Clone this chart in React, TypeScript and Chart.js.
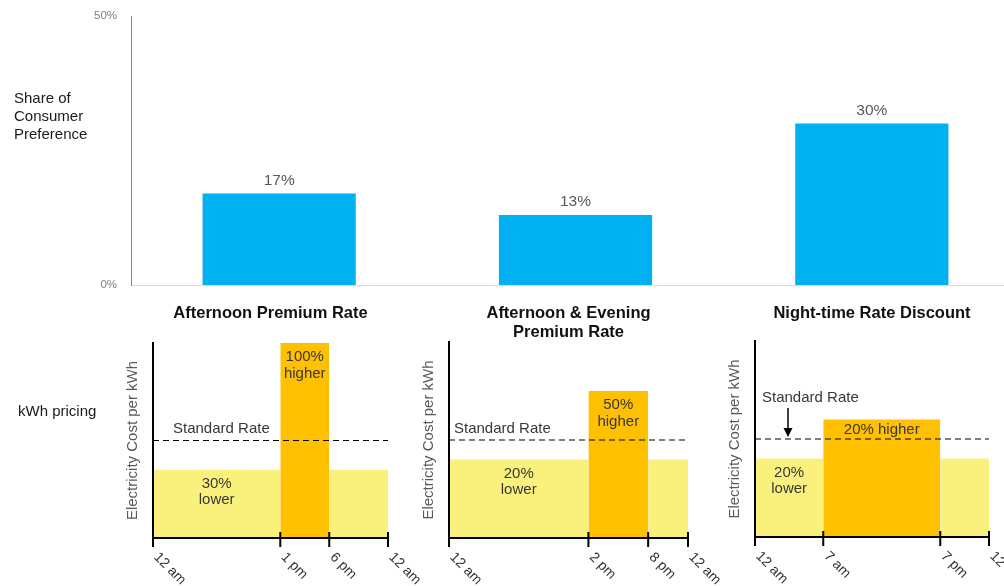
import React, { useEffect, useRef } from "react";
import { Chart, registerables } from "chart.js";

Chart.register(...registerables);

const FONT = "'Liberation Sans', Arial, Helvetica, sans-serif";

// Pricing plans and the share of consumers preferring each one
const plans = ["Afternoon Premium Rate", "Afternoon & Evening\nPremium Rate", "Night-time Rate Discount"];
const preferenceShare = [17, 13, 30];
const shareTicks = [0, 50];

// Daily tariff shape per plan: hours from midnight, price relative to the standard rate
const peakStartHour = [13, 14, 7];
const peakEndHour = [18, 20, 19];
const peakPrice = [2.0, 1.5, 1.2];
const offPeakPrice = [0.7, 0.8, 0.8];
const standardPrice = 1;
const dayHours = [0, 24];
const hourTickLabels = [
  ["12 am", "1 pm", "6 pm", "12 am"],
  ["12 am", "2 pm", "8 pm", "12 am"],
  ["12 am", "7 am", "7 pm", "12 am"],
];

const BLUE = "#00B0F0";
const YELLOW = "#FAF07C";
const ORANGE = "#FFC000";
const NOTE = "#383838";

// Placement of each small tariff panel on the page
const panelLayout = [
  { left: 93, top: 295, padTop: 48, plotWidth: 235, plotHeight: 195, stdDx: 20, stdDy: -12, arrow: false, inlinePeak: false },
  { left: 389, top: 295, padTop: 47, plotWidth: 239, plotHeight: 196, stdDx: 5, stdDy: -11, arrow: false, inlinePeak: false },
  { left: 695, top: 295, padTop: 46, plotWidth: 234, plotHeight: 196, stdDx: 7, stdDy: -41, arrow: true, inlinePeak: true },
];
const PANEL_H = 291;
const AXIS_W = 60;
const PAD_R = 45;

const pctText = (v: number) => `${Math.round(Math.abs(v - standardPrice) * 100)}%`;

function PreferenceChart() {
  const ref = useRef<HTMLCanvasElement | null>(null);
  useEffect(() => {
    const valueLabels = {
      id: "valueLabels",
      afterDatasetsDraw(chart: any) {
        const { ctx } = chart;
        const meta = chart.getDatasetMeta(0);
        ctx.save();
        ctx.font = `15.5px ${FONT}`;
        ctx.fillStyle = "#595959";
        ctx.textAlign = "center";
        ctx.textBaseline = "middle";
        meta.data.forEach((bar: any, i: number) => {
          ctx.fillText(`${preferenceShare[i]}%`, bar.x, bar.y - 13);
        });
        ctx.restore();
      },
    };
    const chart = new Chart(ref.current as HTMLCanvasElement, {
      type: "bar",
      data: {
        labels: plans.map((p) => p.split("\n")),
        datasets: [
          {
            data: preferenceShare,
            backgroundColor: BLUE,
            barPercentage: 0.517,
            categoryPercentage: 1,
          },
        ],
      },
      options: {
        responsive: false,
        animation: false,
        layout: { padding: { top: 16, right: 10, left: 0, bottom: 0 } },
        plugins: { legend: { display: false }, tooltip: { enabled: false } },
        scales: {
          x: {
            grid: { display: false, drawTicks: false },
            ticks: { display: false },
            border: { display: true, color: "#D9D9D9", width: 1 },
            afterFit(s: any) {
              s.height = 15;
              s.paddingLeft = 0;
              s.paddingRight = 0;
            },
          },
          y: {
            min: 0,
            max: 50,
            afterBuildTicks(s: any) {
              s.ticks = shareTicks.map((v) => ({ value: v }));
            },
            ticks: {
              callback: (v: any) => `${v}%`,
              color: "#7F7F7F",
              font: { family: FONT, size: 11.5 },
              padding: 14,
            },
            grid: { display: false, drawTicks: false },
            border: { display: true, color: "#5B8FC9", width: 1 },
            afterFit(s: any) {
              s.width = 131;
              s.paddingTop = 0;
              s.paddingBottom = 0;
            },
          },
        },
      },
      plugins: [valueLabels],
    } as any);
    return () => chart.destroy();
  }, []);
  return (
    <canvas
      ref={ref}
      width={1030}
      height={300}
      style={{ position: "absolute", left: 0, top: 0, width: 1030, height: 300 }}
    />
  );
}

function TariffPanel({ index }: { index: number }) {
  const ref = useRef<HTMLCanvasElement | null>(null);
  const lay = panelLayout[index];
  const width = AXIS_W + lay.plotWidth + PAD_R;
  useEffect(() => {
    const start = peakStartHour[index];
    const end = peakEndHour[index];
    const peak = peakPrice[index];
    const off = offPeakPrice[index];
    const tickValues = [dayHours[0], start, end, dayHours[1]];
    const tickLabels = hourTickLabels[index];
    const titleLines = plans[index].split("\n");

    const panelDecor = {
      id: "panelDecor",
      afterDraw(chart: any) {
        const { ctx, chartArea } = chart;
        const x = chart.scales.x;
        const y = chart.scales.y;
        ctx.save();

        // panel heading
        ctx.fillStyle = "#111";
        ctx.font = `bold 16.5px ${FONT}`;
        ctx.textAlign = "center";
        ctx.textBaseline = "middle";
        const cx = (chartArea.left + chartArea.right) / 2;
        titleLines.forEach((line, i) => ctx.fillText(line, cx, 18 + i * 19));

        // hour ticks and slanted labels
        ctx.strokeStyle = "#000";
        ctx.lineWidth = 2;
        ctx.fillStyle = "#333";
        ctx.font = `14px ${FONT}`;
        x.ticks.forEach((t: any, i: number) => {
          const px = x.getPixelForValue(t.value);
          ctx.beginPath();
          ctx.moveTo(px, chartArea.bottom - 6);
          ctx.lineTo(px, chartArea.bottom + 9);
          ctx.stroke();
          ctx.save();
          ctx.translate(px + 3, chartArea.bottom + 17);
          ctx.rotate(Math.PI / 4);
          ctx.textAlign = "left";
          ctx.textBaseline = "middle";
          ctx.fillText(tickLabels[i], 0, 0);
          ctx.restore();
        });

        // rate notes
        ctx.fillStyle = NOTE;
        ctx.font = `15px ${FONT}`;
        ctx.textAlign = "center";
        ctx.textBaseline = "middle";
        const peakX = (x.getPixelForValue(start) + x.getPixelForValue(end)) / 2;
        const peakTop = y.getPixelForValue(peak);
        if (lay.inlinePeak) {
          ctx.fillText(`${pctText(peak)} higher`, peakX, peakTop + 10);
        } else {
          ctx.fillText(pctText(peak), peakX, peakTop + 14);
          ctx.fillText("higher", peakX, peakTop + 31);
        }
        const offX = (x.getPixelForValue(dayHours[0]) + x.getPixelForValue(start)) / 2;
        const offTop = y.getPixelForValue(off);
        ctx.fillText(pctText(off), offX, offTop + 14);
        ctx.fillText("lower", offX, offTop + 30);

        const stdY = y.getPixelForValue(standardPrice);
        ctx.textAlign = "left";
        ctx.fillText("Standard Rate", chartArea.left + lay.stdDx, stdY + lay.stdDy);
        if (lay.arrow) {
          const ax = chartArea.left + 33;
          ctx.strokeStyle = "#000";
          ctx.lineWidth = 1.5;
          ctx.beginPath();
          ctx.moveTo(ax, stdY - 31);
          ctx.lineTo(ax, stdY - 9);
          ctx.stroke();
          ctx.fillStyle = "#000";
          ctx.beginPath();
          ctx.moveTo(ax - 4.5, stdY - 11);
          ctx.lineTo(ax + 4.5, stdY - 11);
          ctx.lineTo(ax, stdY - 2);
          ctx.closePath();
          ctx.fill();
        }
        ctx.restore();
      },
    };

    const chart = new Chart(ref.current as HTMLCanvasElement, {
      type: "line",
      data: {
        datasets: [
          {
            label: "Standard Rate",
            data: dayHours.map((h) => ({ x: h, y: standardPrice })),
            borderColor: "#000",
            borderWidth: 1.2,
            borderDash: [6, 4],
            pointRadius: 0,
            fill: false,
          },
          {
            label: "Peak",
            data: [
              { x: start, y: peak },
              { x: end, y: peak },
            ],
            backgroundColor: ORANGE,
            borderWidth: 0,
            pointRadius: 0,
            fill: "origin",
          },
          {
            label: "Off-peak",
            data: [
              { x: dayHours[0], y: off },
              { x: start, y: off },
              { x: start, y: null },
              { x: end, y: off },
              { x: dayHours[1], y: off },
            ],
            backgroundColor: YELLOW,
            borderWidth: 0,
            pointRadius: 0,
            fill: "origin",
          },
        ],
      },
      options: {
        responsive: false,
        animation: false,
        layout: { padding: { top: lay.padTop, right: PAD_R, left: 0, bottom: 0 } },
        plugins: { legend: { display: false }, tooltip: { enabled: false } },
        scales: {
          x: {
            type: "linear",
            min: dayHours[0],
            max: dayHours[1],
            afterBuildTicks(s: any) {
              s.ticks = tickValues.map((v) => ({ value: v }));
            },
            ticks: { display: false },
            grid: { display: false, drawTicks: false },
            border: { display: true, color: "#000", width: 2, z: 1 },
            afterFit(s: any) {
              s.height = PANEL_H - lay.padTop - lay.plotHeight;
            },
          },
          y: {
            min: 0,
            max: 2,
            ticks: { display: false },
            grid: { display: false, drawTicks: false },
            border: { display: true, color: "#000", width: 2, z: 1 },
            title: {
              display: true,
              text: "Electricity Cost per kWh",
              color: "#595959",
              font: { family: FONT, size: 15 },
              padding: { top: 31, bottom: 0 },
            },
            afterFit(s: any) {
              s.width = AXIS_W;
            },
          },
        },
      },
      plugins: [panelDecor],
    } as any);
    return () => chart.destroy();
  }, [index]);
  return (
    <canvas
      ref={ref}
      width={width}
      height={PANEL_H}
      style={{ position: "absolute", left: lay.left, top: lay.top, width, height: PANEL_H }}
    />
  );
}

export default function App() {
  const rowLabel: React.CSSProperties = {
    position: "absolute",
    fontFamily: FONT,
    fontSize: 15,
    lineHeight: "18px",
    color: "#1A1A1A",
    whiteSpace: "pre",
  };
  return (
    <div
      style={{
        position: "absolute",
        left: 0,
        top: 0,
        width: 1004,
        height: 586,
        overflow: "hidden",
        background: "#fff",
      }}
    >
      <PreferenceChart />
      {plans.map((_, i) => (
        <TariffPanel key={i} index={i} />
      ))}
      <div style={{ ...rowLabel, left: 14, top: 89 }}>{"Share of\nConsumer\nPreference"}</div>
      <div style={{ ...rowLabel, left: 18, top: 402 }}>kWh pricing</div>
    </div>
  );
}
